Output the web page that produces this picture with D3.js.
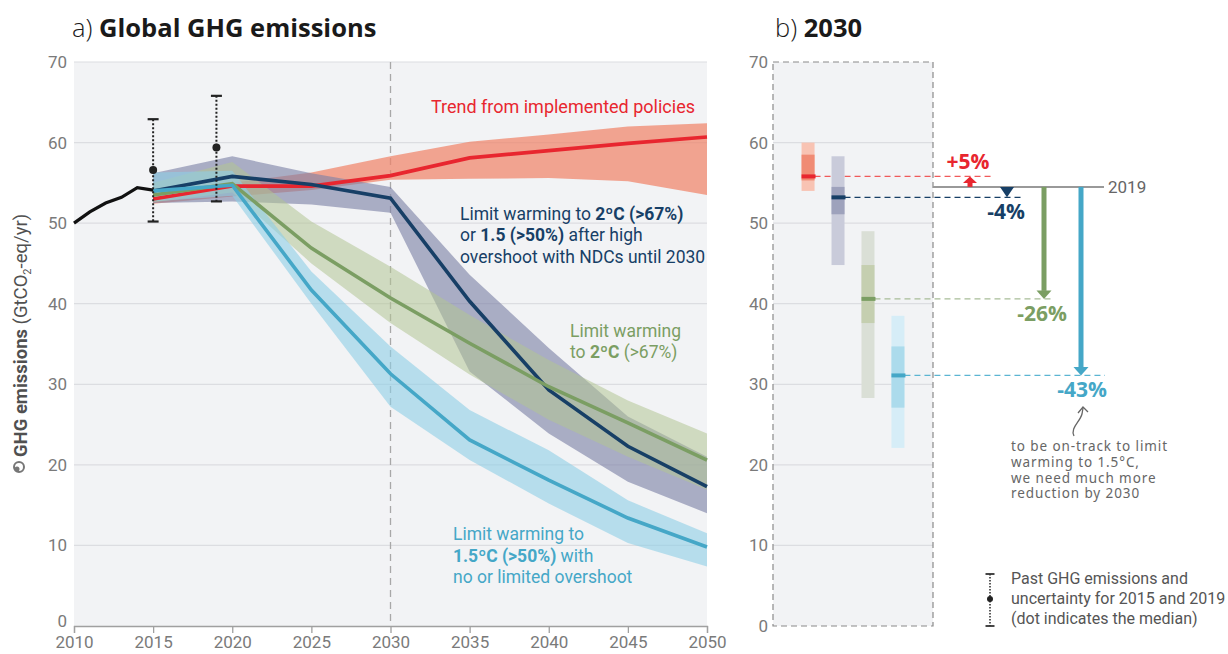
<!DOCTYPE html>
<html>
<head>
<meta charset="utf-8">
<script src="https://cdn.jsdelivr.net/npm/d3@7"></script>
<style>
  html, body { margin: 0; padding: 0; background: #ffffff; }
  svg { display: block; }
</style>
</head>
<body>
<svg id="chart" width="1228" height="654"></svg>
<script>
// ---------------- DATA ----------------
const histYears = [2010, 2011, 2012, 2013, 2014, 2015];
const histValues = [50.0, 51.4, 52.5, 53.2, 54.4, 54.1];

const errYears = [2015, 2019];
const errLow = [50.2, 52.7];
const errMid = [56.6, 59.4];
const errHigh = [62.9, 65.8];

const scenYears = [2015, 2020, 2025, 2030, 2035, 2040, 2045, 2050];

const policiesMid  = [53.0, 54.6, 54.6, 55.9, 58.1, 59.0, 59.9, 60.7];
const policiesLow  = [52.4, 53.3, 54.1, 55.4, 55.5, 55.6, 55.2, 53.5];
const policiesHigh = [53.6, 55.0, 56.3, 58.3, 60.1, 61.0, 62.0, 62.4];

const ndcMid  = [54.0, 55.8, 54.8, 53.1, 40.3, 29.3, 22.3, 17.3];
const ndcLow  = [52.5, 52.7, 52.3, 51.3, 31.6, 23.9, 17.9, 14.0];
const ndcHigh = [56.2, 58.3, 56.2, 54.5, 43.6, 34.5, 26.0, 21.0];

const c2Mid  = [53.5, 54.9, 46.9, 40.7, 35.1, 29.7, 25.2, 20.6];
const c2Low  = [52.6, 53.8, 45.0, 37.6, 31.2, 25.6, 21.0, 16.9];
const c2High = [55.0, 57.6, 50.2, 44.6, 38.6, 33.0, 28.0, 23.9];

const c15Mid  = [54.0, 54.7, 41.7, 31.3, 23.1, 18.1, 13.4, 9.8];
const c15Low  = [52.7, 53.4, 40.0, 27.2, 20.6, 15.2, 10.3, 7.4];
const c15High = [56.3, 56.5, 44.0, 34.7, 26.8, 21.8, 15.6, 11.5];

// Panel b (2030)
const barCats    = ["policies", "ndc", "c2", "c15"];
const barLightLo = [54.0, 44.8, 28.3, 22.1];
const barLightHi = [60.0, 58.3, 49.0, 38.5];
const barDarkLo  = [55.3, 51.1, 37.6, 27.1];
const barDarkHi  = [58.5, 54.5, 44.8, 34.7];
const barMedian  = [55.8, 53.2, 40.6, 31.1];
const ref2019 = 54.5;
const pctLabels = ["+5%", "-4%", "-26%", "-43%"];

const xTicks = [2010, 2015, 2020, 2025, 2030, 2035, 2040, 2045, 2050];
const yTicks = [0, 10, 20, 30, 40, 50, 60, 70];

// ---------------- STYLE ----------------
const FONT = "'Liberation Sans Narrow', 'Roboto', 'Noto Sans', sans-serif";
const TITLEFONT = "'Open Sans', 'Noto Sans', sans-serif";
const C = {
  red: "#e8262f", navy: "#173f66", green: "#7b9e63", blue: "#45a7c7",
  redBand: "#f0846a", navyBand: "#7c81a6", greenBand: "#b3c493", blueBand: "#8dcfe6",
  bg: "#f2f3f5", grid: "#dcdde1", tick: "#7a7a7a"
};
const seriesColor = [C.red, C.navy, C.green, C.blue];
const barLightCol = ["#f8c3b3", "#c9cbda", "#dadfd6", "#d6edf7"];
const barDarkCol  = ["#f08b74", "#9ea2bc", "#c5cfb0", "#acdbec"];
const dashCol     = ["#f05a5a", "#173f66", "#a8bd98", "#5bb5d2"];

const svg = d3.select("#chart");

// ---------------- PANEL A ----------------
const x = d3.scaleLinear().domain([2010, 2050]).range([74, 707]);
const y = d3.scaleLinear().domain([0, 70]).range([626, 62]);

const gA = svg.append("g");
gA.append("rect").attr("x", x(2010)).attr("y", y(70))
  .attr("width", x(2050) - x(2010)).attr("height", y(0) - y(70)).attr("fill", C.bg);

gA.append("g").selectAll("line").data(yTicks.filter(d => d > 0)).join("line")
  .attr("x1", x(2010)).attr("x2", x(2050)).attr("y1", d => y(d)).attr("y2", d => y(d))
  .attr("stroke", C.grid).attr("stroke-width", 1.2);

// 2030 dashed line
gA.append("line").attr("x1", x(2030)).attr("x2", x(2030)).attr("y1", y(70)).attr("y2", y(0))
  .attr("stroke", "#a8a8a8").attr("stroke-width", 1.3).attr("stroke-dasharray", "7,5");

// axes
const xAxis = gA.append("g").attr("transform", `translate(0,${y(0)})`)
  .call(d3.axisBottom(x).tickValues(xTicks).tickFormat(d3.format("d")).tickSize(7).tickPadding(3));
xAxis.select(".domain").attr("stroke", "#a0a0a0").attr("stroke-width", 1.3);
xAxis.selectAll(".tick line").attr("stroke", "#a0a0a0").attr("stroke-width", 1.3);
xAxis.selectAll("text").attr("fill", C.tick).style("font-family", FONT).style("font-size", "17px");

const yAxis = gA.append("g").attr("transform", `translate(${x(2010)},0)`)
  .call(d3.axisLeft(y).tickValues(yTicks).tickSize(0).tickPadding(7));
yAxis.select(".domain").remove();
yAxis.selectAll("text").attr("fill", C.tick).style("font-family", FONT).style("font-size", "17px")
  .attr("dy", d => d === 0 ? "0.05em" : "0.32em");

// bands & lines
const series = [
  {mid: policiesMid, lo: policiesLow, hi: policiesHigh, col: C.red, band: C.redBand, op: 0.72},
  {mid: ndcMid, lo: ndcLow, hi: ndcHigh, col: C.navy, band: C.navyBand, op: 0.62},
  {mid: c2Mid, lo: c2Low, hi: c2High, col: C.green, band: C.greenBand, op: 0.55},
  {mid: c15Mid, lo: c15Low, hi: c15High, col: C.blue, band: C.blueBand, op: 0.6}
];
const area = d3.area().x(d => x(d.year)).y0(d => y(d.lo)).y1(d => y(d.hi));
const line = d3.line().x(d => x(d.year)).y(d => y(d.v));

series.forEach(s => {
  const pts = scenYears.map((yr, i) => ({year: yr, lo: s.lo[i], hi: s.hi[i]}));
  gA.append("path").attr("d", area(pts)).attr("fill", s.band).attr("fill-opacity", s.op);
});
series.forEach(s => {
  const pts = scenYears.map((yr, i) => ({year: yr, v: s.mid[i]}));
  gA.append("path").attr("d", line(pts)).attr("fill", "none").attr("stroke", s.col)
    .attr("stroke-width", 3.6).attr("stroke-linejoin", "miter");
});

// historical
gA.append("path").attr("d", line(histYears.map((yr, i) => ({year: yr, v: histValues[i]}))))
  .attr("fill", "none").attr("stroke", "#111").attr("stroke-width", 3.2);

// error bars
errYears.forEach((yr, i) => {
  const g = gA.append("g");
  g.append("line").attr("x1", x(yr)).attr("x2", x(yr)).attr("y1", y(errHigh[i])).attr("y2", y(errLow[i]))
    .attr("stroke", "#222").attr("stroke-width", 2).attr("stroke-dasharray", "2,2");
  [errHigh[i], errLow[i]].forEach(v => {
    g.append("line").attr("x1", x(yr) - 5.5).attr("x2", x(yr) + 5.5).attr("y1", y(v)).attr("y2", y(v))
      .attr("stroke", "#222").attr("stroke-width", 2.2);
  });
  g.append("circle").attr("cx", x(yr)).attr("cy", y(errMid[i])).attr("r", 4).attr("fill", "#222");
});

// text helper
function richText(parent, xPos, yPos, lines, color, size, lh, anchor) {
  const t = parent.append("text").attr("x", xPos).attr("y", yPos)
    .style("font-family", FONT).style("font-size", size + "px").attr("fill", color)
    .attr("text-anchor", anchor || "start");
  lines.forEach((segs, li) => {
    segs.forEach((seg, si) => {
      const ts = t.append("tspan").text(seg[0]).attr("font-weight", seg[1] ? "bold" : "normal");
      if (si === 0) ts.attr("x", xPos).attr("dy", li === 0 ? 0 : lh);
    });
  });
  return t;
}

richText(gA, 695, 113, [[["Trend from implemented policies", false]]], C.red, 18, 21.5, "end");
richText(gA, 460, 220, [
  [["Limit warming to ", false], ["2ºC (>67%)", true]],
  [["or ", false], ["1.5 (>50%)", true], [" after high", false]],
  [["overshoot with NDCs until 2030", false]]
], C.navy, 17.5, 21.3);
richText(gA, 570, 337, [
  [["Limit warming", false]],
  [["to ", false], ["2ºC", true], [" (>67%)", false]]
], C.green, 17.5, 21.3);
richText(gA, 453, 540, [
  [["Limit warming to", false]],
  [["1.5ºC (>50%)", true], [" with", false]],
  [["no or limited overshoot", false]]
], C.blue, 17.5, 21.5);

// Title a
const tA = svg.append("text").attr("x", 72).attr("y", 37).attr("fill", "#1a1a1a")
  .style("font-family", TITLEFONT).style("font-size", "25.5px");
tA.append("tspan").text("a) ").attr("font-weight", "300");
tA.append("tspan").text("Global GHG emissions").attr("font-weight", "bold");

// Y axis title
const yT = svg.append("text").attr("transform", "translate(27,457) rotate(-90)")
  .attr("fill", "#505050").style("font-family", FONT).style("font-size", "18.5px");
yT.append("tspan").text("GHG emissions ").attr("font-weight", "bold");
yT.append("tspan").text("(GtCO");
yT.append("tspan").text("2").style("font-size", "11px").attr("dy", 4);
yT.append("tspan").text("-eq/yr)").attr("dy", -4);
svg.append("circle").attr("cx", 19).attr("cy", 467).attr("r", 5).attr("fill", "none")
  .attr("stroke", "#777").attr("stroke-width", 2);
svg.append("circle").attr("cx", 17).attr("cy", 469).attr("r", 2.5).attr("fill", "#777");

// ---------------- PANEL B ----------------
const bx0 = 773, bx1 = 933;
const gB = svg.append("g");
gB.append("rect").attr("x", bx0).attr("y", y(70)).attr("width", bx1 - bx0).attr("height", y(0) - y(70))
  .attr("fill", C.bg);
gB.append("g").selectAll("line").data(yTicks.filter(d => d > 0 && d < 70)).join("line")
  .attr("x1", bx0).attr("x2", bx1).attr("y1", d => y(d)).attr("y2", d => y(d))
  .attr("stroke", C.grid).attr("stroke-width", 1.2);
gB.append("rect").attr("x", bx0).attr("y", y(70)).attr("width", bx1 - bx0).attr("height", y(0) - y(70))
  .attr("fill", "none").attr("stroke", "#8a8a8a").attr("stroke-width", 1.2).attr("stroke-dasharray", "6,4");

const yAxisB = gB.append("g").attr("transform", `translate(${bx0},0)`)
  .call(d3.axisLeft(y).tickValues(yTicks).tickSize(0).tickPadding(5));
yAxisB.select(".domain").remove();
yAxisB.selectAll("text").attr("fill", C.tick).style("font-family", FONT).style("font-size", "17px");

const xb = d3.scalePoint().domain(barCats).range([bx0, bx1]).padding(1.17);
const bw = 13;
const arrowX = d3.scalePoint().domain(barCats).range([970, 1081]);
const dashEndOffset = [22, 16, 8, 24];

// reference 2019 line
gB.append("line").attr("x1", bx1).attr("x2", 1104).attr("y1", y(ref2019)).attr("y2", y(ref2019))
  .attr("stroke", "#999").attr("stroke-width", 2);
gB.append("text").attr("x", 1108).attr("y", y(ref2019) + 6).text("2019")
  .attr("fill", "#666").style("font-family", FONT).style("font-size", "17px");

barCats.forEach((c, i) => {
  const cx = xb(c);
  gB.append("rect").attr("x", cx - bw / 2).attr("width", bw)
    .attr("y", y(barLightHi[i])).attr("height", y(barLightLo[i]) - y(barLightHi[i])).attr("fill", barLightCol[i]);
  gB.append("rect").attr("x", cx - bw / 2).attr("width", bw)
    .attr("y", y(barDarkHi[i])).attr("height", y(barDarkLo[i]) - y(barDarkHi[i])).attr("fill", barDarkCol[i]);
  const ax = arrowX(c);
  gB.append("line").attr("x1", cx + bw / 2).attr("x2", ax + dashEndOffset[i])
    .attr("y1", y(barMedian[i])).attr("y2", y(barMedian[i]))
    .attr("stroke", dashCol[i]).attr("stroke-width", 1.4).attr("stroke-dasharray", "6,4");
  gB.append("rect").attr("x", cx - bw / 2).attr("width", bw + 1)
    .attr("y", y(barMedian[i]) - 2).attr("height", 4).attr("fill", seriesColor[i]);

  // arrows
  const y0 = y(ref2019), y1 = y(barMedian[i]);
  const col = seriesColor[i];
  if (i === 0) {
    gB.append("rect").attr("x", ax - 2.5).attr("width", 5).attr("y", y1 + 6).attr("height", y0 - (y1 + 6)).attr("fill", col);
    gB.append("path").attr("d", `M${ax - 7},${y1 + 6.5}L${ax + 7},${y1 + 6.5}L${ax},${y1}Z`).attr("fill", col);
  } else if (i === 1) {
    gB.append("path").attr("d", `M${ax - 7},${y0}L${ax + 7},${y0}L${ax},${y1}Z`).attr("fill", col);
  } else {
    gB.append("rect").attr("x", ax - 2.5).attr("width", 5).attr("y", y0).attr("height", (y1 - 8) - y0).attr("fill", col);
    gB.append("path").attr("d", `M${ax - 7.5},${y1 - 8.5}L${ax + 7.5},${y1 - 8.5}L${ax},${y1}Z`).attr("fill", col);
  }
});

// percent labels
const pctPos = [[968, y(barMedian[0]) - 7], [1006, y(barMedian[1]) + 22], [1042, y(barMedian[2]) + 22], [1082, y(barMedian[3]) + 22]];
pctLabels.forEach((t, i) => {
  gB.append("text").attr("x", pctPos[i][0]).attr("y", pctPos[i][1]).text(t)
    .attr("text-anchor", "middle").attr("fill", seriesColor[i]).attr("font-weight", "bold")
    .style("font-family", TITLEFONT).style("font-size", "21px");
});

// Title b
const tB = svg.append("text").attr("x", 775).attr("y", 37).attr("fill", "#1a1a1a")
  .style("font-family", TITLEFONT).style("font-size", "25.5px");
tB.append("tspan").text("b) ").attr("font-weight", "300");
tB.append("tspan").text("2030").attr("font-weight", "bold");

// handwritten annotation
gB.append("path").attr("d", "M1074,436 C1070,428 1080,422 1082,414 L1083,408")
  .attr("fill", "none").attr("stroke", "#666").attr("stroke-width", 1.3);
gB.append("path").attr("d", "M1078,413 L1083,407 L1088,412")
  .attr("fill", "none").attr("stroke", "#666").attr("stroke-width", 1.3);
const ann = ["to be on-track to limit", "warming to 1.5°C,", "we need much more", "reduction by 2030"];
ann.forEach((s, i) => gB.append("text").attr("x", 1011).attr("y", 451 + i * 15.8).text(s)
  .attr("fill", "#666").style("font-family", "'Noto Sans', sans-serif").style("font-size", "13.5px")
  .style("letter-spacing", "0.9px"));

// legend
const lg = svg.append("g");
const lx = 990;
lg.append("line").attr("x1", lx).attr("x2", lx).attr("y1", 574).attr("y2", 626)
  .attr("stroke", "#333").attr("stroke-width", 1.6).attr("stroke-dasharray", "1.5,1.5");
[574, 626].forEach(v => lg.append("line").attr("x1", lx - 4.5).attr("x2", lx + 4.5).attr("y1", v).attr("y2", v)
  .attr("stroke", "#333").attr("stroke-width", 1.8));
lg.append("circle").attr("cx", lx).attr("cy", 599).attr("r", 3).attr("fill", "#222");
["Past GHG emissions and", "uncertainty for 2015 and 2019", "(dot indicates the median)"]
  .forEach((s, i) => lg.append("text").attr("x", 1011).attr("y", 584 + i * 20).text(s)
    .attr("fill", "#555").style("font-family", FONT).style("font-size", "16px"));
</script>
</body>
</html>
